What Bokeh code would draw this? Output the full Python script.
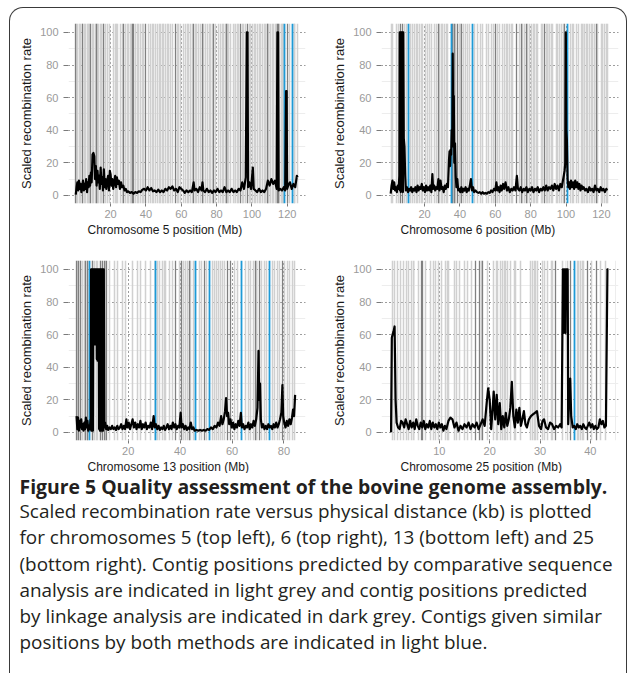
from bokeh.plotting import figure
from bokeh.models import Range1d, FixedTicker, Title
from bokeh.layouts import column, row
from bokeh.core.properties import value
from bokeh.embed import file_html
from bokeh.resources import INLINE

# ---------------- data ----------------
y_ticks = [0, 20, 40, 60, 80, 100]
y_minor = [10, 30, 50, 70, 90]

# Chromosome 5
chr5_xticks = [20, 40, 60, 80, 100, 120]
chr5_xminor = [30, 50, 70, 90, 110]
chr5_light = [0.6, 1.5, 2.2, 3.1, 3.9, 5.0, 5.8, 6.9, 7.6, 8.2, 9.6, 10.4, 11.2, 12.5, 13.3, 14.3, 15.0,
              16.2, 17.0, 18.1, 19.2, 21.9, 22.6, 23.4, 24.2, 25.7, 26.5, 28.3, 29.4, 30.2, 31.0, 32.0,
              34.1, 35.0, 36.0, 37.0, 37.9, 38.8, 41.7, 42.6, 43.5, 44.4, 45.5, 46.8, 47.5, 48.3, 49.2,
              50.2, 51.1, 52.1, 53.0, 54.0, 55.2, 57.8, 58.6, 59.6, 61.3, 62.4, 63.3, 64.3, 65.5, 66.2,
              68.0, 68.7, 70.0, 71.0, 72.8, 73.8, 74.7, 75.7, 76.6, 77.5, 79.2, 81.3, 82.2, 83.2, 84.1,
              85.1, 86.0, 87.0, 88.0, 89.8, 90.6, 91.7, 92.6, 94.5, 95.5, 96.3, 98.4, 99.3, 100.2, 101.3,
              102.1, 103.0, 104.0, 104.9, 105.8, 106.9, 107.8, 108.7, 109.5, 110.5, 111.4, 112.4, 113.4,
              114.0, 115.8, 116.5, 117.1, 117.8, 121.5, 123.8, 124.3, 125.5]
chr5_dark = [0.3, 4.4, 8.8, 11.9, 15.9, 27.5, 32.3, 33.2, 39.8, 56.8, 67.2, 71.9, 78.5, 85.5, 93.6,
             97.3, 108.6, 114.6, 115.3, 120.0]
chr5_blue = [118.7, 122.9]
chr5_profile = [
    (0.3, 0.5), (0.8, 5), (1.2, 8), (1.7, 3), (2.1, 9), (2.6, 4), (3.0, 7), (3.5, 2), (4.0, 6), (4.4, 9),
    (4.9, 3), (5.3, 7), (5.8, 4), (6.2, 10), (6.7, 2), (7.1, 8), (7.6, 5), (8.0, 12), (8.4, 6), (8.9, 14),
    (9.3, 8), (9.8, 25), (10.3, 26), (10.8, 24), (11.2, 10), (11.7, 18), (12.1, 6), (12.6, 15), (13.0, 8),
    (13.5, 12), (13.9, 4), (14.4, 17), (14.8, 7), (15.3, 11), (15.7, 3), (16.2, 16), (16.7, 5), (17.1, 10),
    (17.6, 4), (18.1, 9), (18.6, 12), (19.1, 3), (19.6, 15), (20.0, 13), (20.5, 6), (21.0, 10), (21.5, 4),
    (22.0, 8), (22.6, 12), (23.1, 5), (23.6, 11), (24.1, 7), (24.7, 9), (25.3, 4), (25.9, 8), (26.5, 5),
    (27.2, 6), (27.9, 3), (28.6, 4), (29.3, 2), (30.0, 2.5), (31.0, 1.5), (32.0, 2), (33.0, 1), (34.0, 2),
    (35.0, 1.5), (36.0, 2.5), (37.0, 2), (38.0, 3.5), (39.0, 4), (40.0, 3), (41.0, 5), (42.0, 3), (43.0, 4.5),
    (44.0, 2.5), (45.0, 3), (46.0, 2), (47.0, 3.5), (48.0, 2), (49.0, 3), (50.0, 2), (51.0, 4), (52.0, 3),
    (53.0, 5), (54.0, 4), (55.0, 5.5), (56.0, 3), (57.0, 4), (58.0, 2), (59.0, 5), (60.0, 4), (61.0, 3),
    (62.0, 1.5), (63.0, 3), (64.0, 2), (65.0, 3), (66.0, 2), (67.0, 8), (67.5, 3), (68.5, 4), (69.5, 2),
    (70.5, 5), (71.5, 3), (72.0, 8), (72.5, 3), (73.5, 2), (74.5, 4), (75.5, 2), (76.5, 3), (77.5, 1.5),
    (78.5, 3), (79.5, 2), (80.5, 4), (81.5, 2), (82.5, 3), (83.5, 2), (84.5, 5), (85.5, 2), (86.5, 3),
    (87.5, 2), (88.5, 4), (89.5, 2), (90.5, 3), (91.5, 2), (92.5, 4), (93.5, 3), (94.5, 8), (95.5, 4),
    (96.5, 11), (97.1, 100), (97.5, 100), (97.8, 5), (98.5, 8), (99.5, 4), (100.5, 17), (101.0, 4),
    (102.0, 3), (103.0, 2), (104.0, 4), (105.0, 2), (106.0, 3), (107.0, 2), (108.0, 4), (109.0, 9),
    (110.0, 6), (111.0, 10), (112.0, 7), (113.0, 9), (114.0, 4), (114.4, 100), (114.8, 100), (115.1, 3),
    (116.0, 4), (117.0, 3), (118.0, 5), (118.8, 3), (119.3, 64), (119.6, 64), (119.9, 4), (120.5, 6),
    (121.5, 8), (122.5, 4), (123.5, 7), (124.5, 5), (125.4, 12), (125.8, 11)]

# Chromosome 6
chr6_xticks = [20, 40, 60, 80, 100, 120]
chr6_xminor = [30, 50, 70, 90, 110]
chr6_light = [1.1, 2.0, 3.9, 5.0, 8.7, 9.6, 12.0, 13.4, 14.3, 15.3, 16.2, 17.1, 18.1, 19.0, 20.5, 21.9,
              22.9, 23.8, 25.6, 26.5, 28.5, 29.4, 30.3, 31.3, 32.2, 33.2, 36.5, 37.5, 39.5, 40.2, 42.0,
              43.1, 44.1, 45.5, 48.5, 50.2, 51.5, 53.0, 54.9, 56.0, 57.9, 59.2, 61.5, 62.6, 64.3, 65.2,
              66.2, 67.1, 68.1, 69.0, 70.0, 73.7, 75.6, 76.6, 78.2, 79.4, 80.3, 81.4, 82.2, 83.2, 84.1,
              86.0, 86.9, 88.8, 89.8, 90.7, 91.7, 92.6, 94.4, 95.4, 96.4, 97.3, 98.4, 102.6, 103.5, 104.4,
              105.8, 106.9, 108.6, 109.6, 110.5, 111.5, 112.4, 113.3, 114.3, 115.2, 116.2, 118.0, 119.8,
              120.9, 121.8, 122.8, 123.6]
chr6_dark = [6.4, 7.3, 27.6, 36.0, 37.0, 38.5, 41.1, 60.3, 71.9, 74.7, 77.4, 87.9, 99.4, 117.0]
chr6_blue = [10.9, 35.1, 47.1, 100.8]
chr6_profile = [
    (0.8, 1), (1.3, 6), (1.8, 9), (2.3, 4), (2.8, 8), (3.3, 3), (3.8, 5), (4.3, 2), (4.8, 6), (5.3, 4),
    (5.7, 12), (5.9, 100), (6.1, 3), (6.3, 100), (6.5, 2), (6.7, 100), (6.9, 4), (7.1, 100), (7.3, 3),
    (7.5, 100), (7.7, 2), (7.9, 100), (8.2, 35), (8.6, 30), (9.0, 12), (9.4, 3), (10.0, 5), (10.6, 2),
    (11.2, 4), (11.8, 3), (12.4, 5), (13.0, 2), (13.6, 4), (14.2, 3), (14.8, 5), (15.4, 2), (16.0, 6),
    (16.6, 3), (17.2, 5), (17.8, 4), (18.4, 7), (19.0, 3), (19.6, 5), (20.2, 2), (20.8, 6), (21.4, 3),
    (22.0, 5), (22.6, 3), (23.2, 6), (23.8, 2), (24.4, 13), (24.8, 4), (25.4, 6), (26.0, 3), (26.6, 5),
    (27.2, 4), (27.8, 10), (28.4, 3), (29.0, 9), (29.6, 4), (30.2, 5), (30.8, 2), (31.4, 6), (32.0, 4),
    (32.6, 7), (33.2, 5), (33.8, 22), (34.1, 27), (34.4, 18), (34.7, 28), (35.0, 25), (35.3, 40),
    (35.6, 30), (35.9, 87), (36.2, 30), (36.5, 61), (36.8, 20), (37.2, 32), (37.6, 12), (38.0, 5),
    (38.5, 10), (39.0, 3), (39.6, 4), (40.2, 2), (40.8, 5), (41.4, 2), (42.0, 4), (42.6, 3), (43.2, 5),
    (43.8, 2), (44.4, 4), (45.0, 3), (45.6, 6), (46.2, 10), (46.8, 3), (47.4, 5), (48.0, 2), (48.8, 3),
    (49.6, 2), (50.4, 1.5), (51.2, 2), (52.0, 1), (52.8, 2), (53.6, 1), (54.4, 1.5), (55.2, 1), (56.0, 2),
    (56.8, 1.5), (57.6, 3), (58.4, 2), (59.2, 4), (60.0, 3), (60.6, 8), (61.2, 3), (61.8, 5), (62.4, 2),
    (63.0, 6), (63.6, 3), (64.4, 7), (65.0, 4), (65.8, 8), (66.6, 3), (67.4, 5), (68.2, 2), (69.0, 4),
    (69.8, 3), (70.6, 5), (71.4, 3), (72.2, 12), (72.8, 4), (73.6, 3), (74.4, 5), (75.2, 2), (76.0, 4),
    (76.8, 3), (77.6, 5), (78.4, 2), (79.2, 4), (80.0, 3), (80.8, 5), (81.6, 2), (82.4, 4), (83.2, 3),
    (84.0, 5), (84.8, 2), (85.6, 4), (86.4, 3), (87.2, 5), (88.0, 3), (88.8, 6), (89.6, 3), (90.4, 5),
    (91.2, 4), (92.0, 6), (92.8, 3), (93.6, 7), (94.4, 4), (95.2, 6), (96.0, 3), (96.8, 7), (97.6, 5),
    (98.4, 10), (99.2, 15), (99.6, 20), (99.9, 100), (100.2, 40), (100.5, 34), (100.9, 10), (101.3, 5),
    (101.8, 8), (102.2, 4), (102.8, 9), (103.4, 5), (104.0, 8), (104.6, 4), (105.2, 9), (105.8, 5),
    (106.4, 8), (107.0, 4), (107.6, 7), (108.2, 3), (108.8, 6), (109.4, 4), (110.0, 5), (110.8, 3),
    (111.6, 4), (112.4, 2), (113.2, 5), (114.0, 3), (114.8, 4), (115.6, 2), (116.4, 6), (117.2, 3),
    (118.0, 4), (118.8, 2), (119.6, 5), (120.4, 3), (121.2, 4), (122.0, 2), (122.8, 4), (123.3, 3)]

# Chromosome 13
chr13_xticks = [20, 40, 60, 80]
chr13_xminor = [10, 30, 50, 70]
chr13_light = [0.6, 1.6, 2.4, 3.1, 4.3, 6.1, 6.9, 7.6, 8.3, 9.5, 11.4, 12.7, 14.6, 15.9, 17.8, 19.0,
               21.7, 23.6, 24.9, 26.8, 28.7, 31.3, 32.2, 33.4, 33.9, 34.5, 35.8, 37.0, 39.6, 41.2, 42.2,
               43.0, 44.1, 45.0, 47.3, 48.2, 50.2, 52.5, 53.4, 54.0, 54.6, 55.4, 56.3, 57.2, 60.8, 62.1,
               65.3, 66.2, 67.3, 68.1, 69.6, 71.2, 72.4, 73.4, 75.6, 76.5, 77.5, 78.3, 80.2, 81.4, 82.3,
               83.3, 84.0]
chr13_dark = [0.1, 0.9, 1.8, 3.7, 4.4, 6.4, 9.2, 10.0, 10.9, 11.8, 38.4, 40.5, 43.6, 49.3, 58.3, 59.6,
              68.9, 70.5, 79.4]
chr13_blue = [4.96, 30.4, 46.1, 51.2, 63.8, 74.3]
chr13_profile = [
    (0.1, 10), (0.4, 2), (0.7, 9), (1.0, 1), (1.3, 7), (1.6, 3), (1.9, 8), (2.2, 2), (2.5, 5), (2.8, 1),
    (3.1, 6), (3.4, 2), (3.7, 9), (4.0, 3), (4.3, 7), (4.6, 1), (4.9, 4), (5.2, 2), (5.5, 8), (5.6, 3),
    (5.7, 100), (5.8, 1), (5.95, 100), (6.1, 2), (6.25, 100), (6.4, 1), (6.55, 100), (6.7, 54),
    (6.85, 100), (7.0, 55), (7.15, 100), (7.3, 54), (7.45, 100), (7.6, 55), (7.75, 100), (7.9, 45),
    (8.05, 100), (8.2, 44), (8.35, 100), (8.5, 45), (8.65, 100), (8.8, 2), (8.95, 100), (9.1, 1),
    (9.25, 100), (9.4, 3), (9.55, 100), (9.7, 1), (9.85, 100), (10.0, 2), (10.15, 100), (10.3, 1),
    (10.45, 100), (10.6, 100), (10.8, 3), (11.1, 6), (11.5, 2), (11.9, 4), (12.3, 1.5), (12.8, 3),
    (13.3, 2), (13.8, 4), (14.3, 2), (14.8, 3), (15.3, 1.5), (15.8, 4), (16.3, 2), (16.8, 3), (17.3, 5),
    (17.8, 2), (18.3, 4), (18.8, 2), (19.3, 8), (19.7, 3), (20.2, 6), (20.7, 2), (21.2, 5), (21.7, 8),
    (22.2, 3), (22.7, 6), (23.2, 2), (23.7, 5), (24.2, 3), (24.7, 7), (25.2, 2), (25.7, 5), (26.2, 3),
    (26.7, 6), (27.2, 2), (27.7, 4), (28.2, 3), (28.7, 6), (29.2, 2), (29.8, 10), (30.2, 3), (30.7, 5),
    (31.2, 2), (31.7, 4), (32.2, 1.5), (32.7, 3), (33.2, 2), (33.7, 4), (34.2, 1.5), (34.7, 3), (35.2, 5),
    (35.7, 2), (36.2, 4), (36.7, 2), (37.2, 6), (37.7, 3), (38.2, 5), (38.7, 2), (39.2, 4), (39.7, 3),
    (40.2, 12), (40.6, 3), (41.1, 5), (41.6, 2), (42.1, 4), (42.6, 1.5), (43.1, 3), (43.6, 2), (44.1, 6),
    (44.6, 2), (45.1, 3), (45.6, 1), (46.3, 1.5), (47.0, 1), (47.7, 1.5), (48.4, 1), (49.1, 1.5),
    (49.8, 1), (50.5, 2), (51.2, 1.5), (51.9, 3), (52.6, 2), (53.3, 4), (54.0, 3), (54.6, 6), (55.2, 4),
    (55.8, 10), (56.3, 5), (56.8, 8), (57.3, 13), (57.7, 21), (58.1, 10), (58.5, 12), (58.9, 5), (59.4, 8),
    (59.9, 3), (60.4, 6), (60.9, 2), (61.4, 5), (61.9, 3), (62.4, 7), (62.9, 4), (63.4, 12), (63.8, 3),
    (64.3, 5), (64.8, 2), (65.3, 4), (65.8, 3), (66.3, 6), (66.8, 2), (67.3, 5), (67.8, 3), (68.3, 7),
    (68.8, 4), (69.3, 8), (69.8, 15), (70.2, 50), (70.5, 20), (70.8, 30), (71.1, 8), (71.5, 3), (72.0, 5),
    (72.5, 2), (73.0, 4), (73.5, 2), (74.0, 5), (74.5, 3), (75.0, 4), (75.5, 2), (76.0, 5), (76.5, 3),
    (77.0, 6), (77.5, 3), (78.0, 5), (78.5, 8), (79.0, 12), (79.4, 29), (79.7, 10), (80.1, 6), (80.6, 3),
    (81.1, 7), (81.6, 4), (82.1, 8), (82.6, 5), (83.1, 9), (83.5, 14), (83.9, 10), (84.3, 23)]

# Chromosome 25
chr25_xticks = [10, 20, 30, 40]
chr25_xminor = [5, 15, 25, 35, 45]
chr25_light = [0.6, 1.05, 1.7, 2.2, 2.9, 3.4, 3.9, 4.4, 4.9, 5.8, 7.3, 8.3, 8.9, 9.3, 9.9, 10.5, 11.2,
               11.65, 11.9, 13.0, 13.5, 14.0, 15.0, 15.5, 16.3, 18.3, 19.5, 20.8, 21.3, 21.5, 22.1, 22.5,
               22.9, 23.1, 23.6, 24.1, 24.9, 25.1, 26.2, 28.2, 28.6, 28.9, 29.2, 29.6, 30.4, 30.9, 31.5,
               32.3, 32.4, 34.5, 35.5, 37.4, 37.7, 38.1, 38.4, 38.7, 40.2, 42.1, 43.1]
chr25_dark = [6.4, 6.7, 17.2, 17.9, 18.5, 33.1, 36.0, 39.4, 41.2]
chr25_blue = [36.8]
chr25_profile = [
    (0.4, 0), (0.55, 58), (0.7, 60), (0.9, 62), (1.1, 65), (1.3, 20), (1.5, 6), (1.8, 3), (2.1, 2),
    (2.4, 7), (2.7, 6), (3.0, 3), (3.3, 8), (3.6, 5), (3.9, 2), (4.2, 7), (4.5, 3), (4.8, 6), (5.1, 2),
    (5.4, 8), (5.7, 4), (6.0, 2), (6.3, 6), (6.6, 3), (6.9, 7), (7.2, 2), (7.5, 5), (7.8, 3), (8.1, 7),
    (8.4, 2), (8.7, 6), (9.0, 3), (9.3, 5), (9.6, 2), (9.9, 6), (10.2, 3), (10.5, 5), (10.8, 1), (11.1, 4),
    (11.4, 2), (11.8, 7), (12.2, 9), (12.6, 8), (13.0, 3), (13.4, 6), (13.8, 1), (14.2, 4), (14.6, 2),
    (15.0, 5), (15.4, 3), (15.8, 6), (16.2, 2), (16.6, 5), (17.0, 3), (17.4, 6), (17.8, 2), (18.2, 5),
    (18.6, 8), (19.0, 4), (19.4, 18), (19.7, 27), (20.0, 20), (20.3, 2), (20.6, 15), (20.8, 25), (21.1, 8),
    (21.4, 23), (21.7, 5), (22.0, 18), (22.3, 2), (22.6, 10), (22.9, 3), (23.2, 12), (23.5, 4), (23.8, 8),
    (24.1, 15), (24.4, 31), (24.7, 10), (25.0, 3), (25.3, 14), (25.6, 6), (25.9, 15), (26.2, 4), (26.5, 8),
    (26.8, 13), (27.1, 5), (27.4, 3), (27.8, 8), (28.2, 10), (28.6, 11), (29.0, 12), (29.4, 13), (29.8, 4),
    (30.2, 2), (30.5, 7), (30.8, 8), (31.2, 3), (31.6, 2), (32.0, 6), (32.4, 5), (32.8, 2), (33.2, 4),
    (33.6, 3), (34.0, 5), (34.3, 3), (34.45, 61), (34.55, 100), (34.65, 61), (34.75, 100), (34.85, 62),
    (34.95, 100), (35.05, 61), (35.15, 100), (35.5, 100), (35.6, 5), (35.8, 20), (36.0, 33), (36.2, 10),
    (36.5, 3), (36.8, 4), (37.1, 2), (37.4, 5), (37.7, 3), (38.0, 4), (38.3, 2), (38.6, 5), (38.9, 3),
    (39.2, 2), (39.5, 4), (39.8, 6), (40.1, 3), (40.4, 5), (40.7, 2), (41.0, 4), (41.3, 2), (41.6, 3),
    (41.9, 8), (42.2, 5), (42.5, 7), (42.8, 3), (43.1, 4), (43.4, 100), (43.6, 100)]

caption_title = "Figure 5 Quality assessment of the bovine genome assembly."
caption_lines = [
    "Scaled recombination rate versus physical distance (kb) is plotted",
    "for chromosomes 5 (top left), 6 (top right), 13 (bottom left) and 25",
    "(bottom right). Contig positions predicted by comparative sequence",
    "analysis are indicated in light grey and contig positions predicted",
    "by linkage analysis are indicated in dark grey. Contigs given similar",
    "positions by both methods are indicated in light blue.",
]

# ---------------- styling ----------------
LIGHT = "#d0d0d0"
DARK = "#808080"
BLUE = "#1e9ad6"
AXIS_FONT = "Liberation Sans"
CAP_FONT = "Open Sans"


def panel(chrom, profile, light, dark, blue, xr, xticks, xminor, right_border, bottom_border):
    p = figure(frame_width=237, frame_height=180,
               x_range=Range1d(*xr), y_range=Range1d(-5.0, 105.5),
               output_backend="svg", toolbar_location=None,
               min_border_left=58, min_border_right=right_border,
               min_border_top=15, min_border_bottom=bottom_border,
               outline_line_color=None, background_fill_color="white",
               border_fill_color=None)
    p.xaxis.ticker = FixedTicker(ticks=xticks, minor_ticks=xminor)
    p.yaxis.ticker = FixedTicker(ticks=y_ticks, minor_ticks=y_minor)
    for g in (p.xgrid, p.ygrid):
        g.grid_line_color = "#3a3a3a"
        g.grid_line_dash = "1 3"
        g.grid_line_width = 1
        g.minor_grid_line_color = "#ededed"
        g.minor_grid_line_width = 1
    for ax in (p.xaxis, p.yaxis):
        ax.axis_line_color = None
        ax.major_tick_line_color = "#7a7a7a"
        ax.major_tick_in = 0
        ax.minor_tick_line_color = None
        ax.major_label_text_color = "#9a9a9a"
        ax.major_label_text_font = AXIS_FONT
        ax.major_label_text_font_size = "11px"
    p.yaxis.major_tick_out = 5
    p.yaxis.major_label_standoff = 5
    p.yaxis.axis_label = "Scaled recombination rate"
    p.yaxis.axis_label_text_font = AXIS_FONT
    p.yaxis.axis_label_text_font_size = "13px"
    p.yaxis.axis_label_text_font_style = "normal"
    p.yaxis.axis_label_text_color = "#1a1a1a"
    p.yaxis.axis_label_standoff = 3
    p.xaxis.major_tick_out = 3
    p.xaxis.major_label_standoff = 2
    p.add_layout(Title(text=f"Chromosome {chrom} position (Mb)", align="left", offset=19, standoff=0,
                       text_font=AXIS_FONT, text_font_size="12px", text_font_style="normal",
                       text_color="#1a1a1a"), "below")

    p.vspan(x=light, line_color=LIGHT, line_width=1.5)
    p.vspan(x=dark, line_color=DARK, line_width=1.3)
    p.vspan(x=blue, line_color=BLUE, line_width=1.8)
    xs = [a for a, b in profile]
    ys = [b for a, b in profile]
    p.line(xs, ys, line_color="black", line_width=2.2, line_join="round")
    return p


p5 = panel(5, chr5_profile, chr5_light, chr5_dark, chr5_blue, (-3.8, 130.3), chr5_xticks, chr5_xminor, 18, 42)
p6 = panel(6, chr6_profile, chr6_light, chr6_dark, chr6_blue, (-4.4, 129.7), chr6_xticks, chr6_xminor, 8, 42)
p13 = panel(13, chr13_profile, chr13_light, chr13_dark, chr13_blue, (-3.0, 88.3), chr13_xticks, chr13_xminor, 18, 33)
p25 = panel(25, chr25_profile, chr25_light, chr25_dark, chr25_blue, (-1.5, 45.6), chr25_xticks, chr25_xminor, 8, 33)

CAP_W, CAP_H = 616, 200
cap = figure(width=CAP_W, height=CAP_H, x_range=Range1d(0, CAP_W), y_range=Range1d(CAP_H, 0),
             output_backend="svg", toolbar_location=None, x_axis_type=None, y_axis_type=None,
             min_border=0, outline_line_color=None, border_fill_color=None,
             background_fill_color=None)
cap.grid.visible = False
LINE_H = 26.2
cap.text(x=[9], y=[13], text=[caption_title], text_font=value(CAP_FONT), text_font_size=value("19.4px"),
         text_font_style=value("bold"), text_baseline="middle", text_color="#231f20")
cap.text(x=[9] * len(caption_lines), y=[11.5 + LINE_H * (i + 1) for i in range(len(caption_lines))],
         text=caption_lines, text_font=value(CAP_FONT), text_font_size=value("18.9px"),
         text_baseline="middle", text_color="#231f20")

layout = column(row(p5, p6), row(p13, p25), cap,
                styles={"margin-left": "9px", "margin-top": "7px",
                        "border-top": "1px solid #3a3a3a", "border-left": "1px solid #3a3a3a",
                        "border-right": "1px solid #3a3a3a",
                        "border-top-left-radius": "14px", "border-top-right-radius": "14px"})

with open("out.html", "w") as f:
    f.write(file_html(layout, INLINE))
